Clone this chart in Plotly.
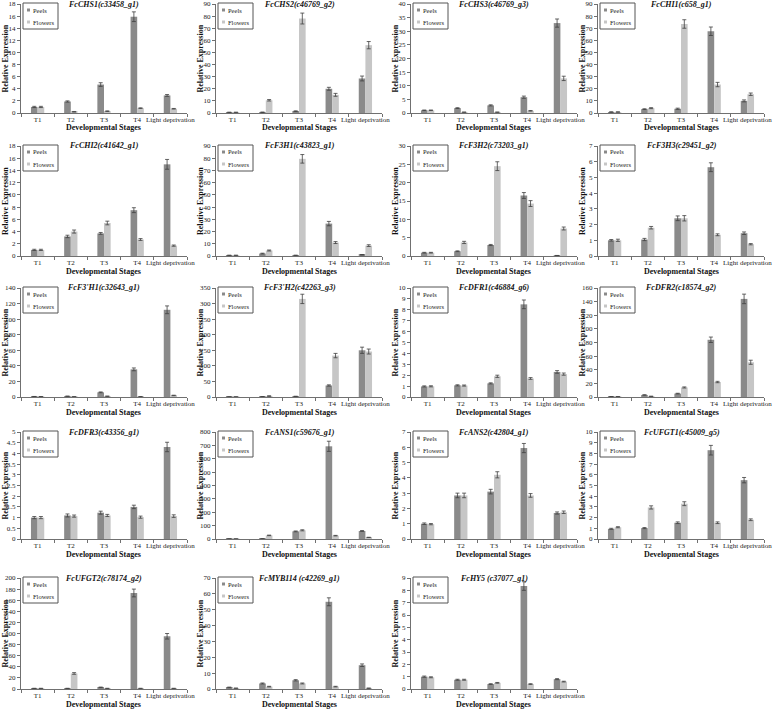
import plotly.graph_objects as go

# ---------------- data ----------------
stages = ["T1", "T2", "T3", "T4", "Light deprivation"]

genes = [
    "FcCHS1(c33458_g1)", "FcCHS2(c46769_g2)", "FcCHS3(c46769_g3)", "FcCHI1(c658_g1)",
    "FcCHI2(c41642_g1)", "FcF3H1(c43823_g1)", "FcF3H2(c73203_g1)", "FcF3H3(c29451_g2)",
    "FcF3'H1(c32643_g1)", "FcF3'H2(c42263_g3)", "FcDFR1(c46884_g6)", "FcDFR2(c18574_g2)",
    "FcDFR3(c43356_g1)", "FcANS1(c59676_g1)", "FcANS2(c42804_g1)", "FcUFGT1(c45009_g5)",
    "FcUFGT2(c78174_g2)", "FcMYB114 (c42269_g1)", "FcHY5 (c37077_g1)",
]

peels = [
    [1.0, 1.9, 4.7, 15.9, 2.9],
    [0.5, 0.6, 1.5, 20.0, 28.5],
    [1.0, 1.8, 2.8, 5.8, 33.0],
    [0.8, 3.2, 3.5, 67.5, 10.0],
    [1.0, 3.2, 3.7, 7.5, 15.0],
    [0.5, 2.0, 0.5, 26.5, 1.0],
    [0.9, 1.3, 3.0, 16.5, 0.1],
    [1.0, 1.05, 2.4, 5.65, 1.45],
    [0.5, 1.0, 6.0, 35.5, 112.0],
    [0.3, 1.0, 2.0, 37.0, 150.0],
    [0.97, 1.07, 1.25, 8.5, 2.3],
    [0.5, 3.0, 5.0, 84.0, 144.0],
    [1.0, 1.1, 1.23, 1.5, 4.3],
    [0.5, 1.0, 57.0, 693.0, 60.0],
    [1.0, 2.85, 3.1, 5.95, 1.7],
    [0.95, 1.02, 1.52, 8.3, 5.5],
    [1.0, 1.0, 3.0, 173.0, 95.0],
    [1.0, 3.5, 5.5, 55.0, 15.0],
    [1.0, 0.75, 0.4, 8.35, 0.8],
]
peels_err = [
    [0.1, 0.1, 0.3, 0.8, 0.15],
    [0.2, 0.2, 0.3, 1.2, 2.0],
    [0.1, 0.15, 0.2, 0.4, 1.5],
    [0.2, 0.3, 0.5, 3.5, 0.8],
    [0.1, 0.2, 0.15, 0.4, 0.8],
    [0.2, 0.3, 0.2, 1.8, 0.2],
    [0.1, 0.1, 0.15, 0.8, 0.05],
    [0.05, 0.07, 0.15, 0.28, 0.08],
    [0.2, 0.2, 0.5, 1.8, 5.0],
    [0.3, 0.5, 0.5, 2.0, 10.0],
    [0.05, 0.05, 0.05, 0.4, 0.12],
    [0.2, 0.3, 0.5, 4.0, 7.0],
    [0.05, 0.07, 0.07, 0.08, 0.22],
    [0.5, 1.0, 3.0, 38.0, 3.0],
    [0.05, 0.15, 0.15, 0.3, 0.07],
    [0.05, 0.05, 0.08, 0.45, 0.25],
    [0.3, 0.3, 0.5, 7.0, 5.0],
    [0.2, 0.3, 0.4, 2.5, 0.8],
    [0.05, 0.04, 0.03, 0.35, 0.04],
]
flowers = [
    [1.0, 0.2, 0.3, 0.8, 0.7],
    [0.5, 10.5, 78.0, 15.0, 56.0],
    [1.0, 0.3, 0.3, 0.8, 12.7],
    [0.8, 4.0, 73.5, 23.5, 15.5],
    [1.0, 4.0, 5.4, 2.7, 1.7],
    [0.5, 4.5, 79.5, 11.0, 8.5],
    [0.9, 3.7, 24.5, 14.3, 7.5],
    [1.0, 1.8, 2.4, 1.35, 0.75],
    [0.5, 0.3, 1.0, 0.5, 2.0],
    [0.3, 3.0, 315.0, 133.0, 146.0],
    [0.98, 1.05, 1.9, 1.7, 2.1],
    [0.5, 1.0, 14.0, 22.0, 51.0],
    [1.0, 1.07, 1.1, 1.02, 1.07],
    [0.5, 27.0, 65.0, 25.0, 12.0],
    [0.97, 2.85, 4.2, 2.85, 1.75],
    [1.1, 2.95, 3.3, 1.52, 1.8],
    [1.0, 28.0, 1.0, 1.0, 1.0],
    [0.5, 1.5, 3.5, 1.5, 0.5],
    [0.95, 0.75, 0.5, 0.4, 0.6],
]
flowers_err = [
    [0.1, 0.05, 0.05, 0.05, 0.05],
    [0.2, 0.6, 4.5, 1.2, 3.0],
    [0.1, 0.05, 0.05, 0.1, 0.8],
    [0.2, 0.4, 3.5, 1.8, 1.0],
    [0.1, 0.25, 0.3, 0.15, 0.1],
    [0.2, 0.4, 3.5, 0.8, 0.7],
    [0.1, 0.3, 1.2, 0.8, 0.4],
    [0.07, 0.08, 0.17, 0.06, 0.04],
    [0.1, 0.1, 0.2, 0.1, 0.3],
    [0.3, 1.0, 15.0, 7.0, 8.0],
    [0.05, 0.05, 0.1, 0.08, 0.1],
    [0.2, 0.2, 0.8, 1.0, 3.0],
    [0.05, 0.05, 0.05, 0.05, 0.06],
    [0.5, 2.0, 4.0, 2.0, 1.0],
    [0.04, 0.15, 0.2, 0.12, 0.08],
    [0.05, 0.15, 0.18, 0.08, 0.08],
    [0.3, 1.5, 0.3, 0.3, 0.3],
    [0.1, 0.2, 0.3, 0.2, 0.1],
    [0.04, 0.04, 0.03, 0.03, 0.03],
]
y_max = [18, 90, 40, 90, 18, 90, 30, 7, 140, 350, 10, 160, 5, 800, 7, 10, 200, 70, 9]
y_step = [2, 10, 5, 10, 2, 10, 5, 1, 20, 50, 1, 20, 0.5, 100, 1, 1, 20, 10, 1]

series_names = ["Peels", "Flowers"]

# ---------------- style / layout ----------------
W, H = 778, 711
FONT = "Liberation Serif"
PEEL_C = "#8a8a8a"
FLOW_C = "#c6c6c6"
AXIS_C = "#707070"
ERR_C = "#404040"

col_px = [(21, 187), (216, 382), (411, 577), (598, 764)]
row_px = [(4, 113), (146, 256), (288, 397), (432, 539), (578, 689)]


def px_x(v):
    return v / W


def px_y(v):
    return 1 - v / H


fig = go.Figure()
layout = dict(
    width=W, height=H,
    margin=dict(l=0, r=0, t=0, b=0),
    paper_bgcolor="white", plot_bgcolor="white",
    barmode="group", bargap=0.6, bargroupgap=0.0,
    showlegend=False,
    font=dict(family=FONT, size=7, color="#222222"),
)
annotations = []
shapes = []

for i, gene in enumerate(genes):
    r, c = divmod(i, 4)
    x0, x1 = col_px[c]
    yt, yb = row_px[r]
    sx = "" if i == 0 else str(i + 1)
    xa, ya = "x" + sx, "y" + sx

    for vals, errs, col, nm in ((peels[i], peels_err[i], PEEL_C, series_names[0]),
                                (flowers[i], flowers_err[i], FLOW_C, series_names[1])):
        fig.add_trace(go.Bar(
            x=stages, y=vals, name=nm, xaxis=xa, yaxis=ya,
            marker=dict(color=col, line=dict(width=0)),
            error_y=dict(type="data", array=errs, visible=True,
                         color=ERR_C, thickness=0.8, width=2),
            offsetgroup=nm,
        ))

    layout["xaxis" + sx] = dict(
        domain=[px_x(x0), px_x(x1)], anchor=ya, type="category",
        showline=True, linecolor=AXIS_C, linewidth=1,
        ticks="outside", tickson="boundaries", ticklen=3, tickcolor=AXIS_C,
        tickangle=0,
        showgrid=False, zeroline=False, automargin=False,
        tickfont=dict(family=FONT, size=7, color="#222222"),
    )
    layout["yaxis" + sx] = dict(
        domain=[px_y(yb), px_y(yt)], anchor=xa,
        range=[0, y_max[i]], dtick=y_step[i], tick0=0,
        showline=True, linecolor=AXIS_C, linewidth=1,
        ticks="outside", ticklen=3, tickcolor=AXIS_C,
        showgrid=False, zeroline=False, automargin=False,
        tickfont=dict(family=FONT, size=7, color="#222222"),
    )

    # panel title
    annotations.append(dict(
        text="<b><i>" + gene + "</i></b>", xref="paper", yref="paper",
        x=px_x((x0 + x1) / 2), y=px_y(yt), xanchor="center", yanchor="middle",
        showarrow=False, font=dict(family=FONT, size=8, color="#111111"),
    ))
    # x-axis title
    annotations.append(dict(
        text="<b>Developmental Stages</b>", xref="paper", yref="paper",
        x=px_x((x0 + x1) / 2), y=px_y(yb + 15), xanchor="center", yanchor="middle",
        showarrow=False, font=dict(family=FONT, size=8, color="#111111"),
    ))
    # y-axis title
    annotations.append(dict(
        text="<b>Relative Expression</b>", xref="paper", yref="paper",
        x=px_x(x0 - 16), y=px_y((yt + yb) / 2), xanchor="center", yanchor="middle",
        textangle=-90, showarrow=False, font=dict(family=FONT, size=8, color="#111111"),
    ))
    # legend box
    lx0, ly0 = x0 + 2, yt - 1
    shapes.append(dict(type="rect", xref="paper", yref="paper",
                       x0=px_x(lx0), x1=px_x(lx0 + 35), y0=px_y(ly0), y1=px_y(ly0 + 26),
                       line=dict(color="#555555", width=1), fillcolor="white"))
    for k, (nm, col) in enumerate(zip(series_names, (PEEL_C, FLOW_C))):
        cy = ly0 + 7 + k * 12
        shapes.append(dict(type="rect", xref="paper", yref="paper",
                           x0=px_x(lx0 + 4), x1=px_x(lx0 + 7), y0=px_y(cy - 1.5), y1=px_y(cy + 1.5),
                           line=dict(width=0), fillcolor=col))
        annotations.append(dict(
            text=nm, xref="paper", yref="paper", x=px_x(lx0 + 8), y=px_y(cy),
            xanchor="left", yanchor="middle", showarrow=False,
            font=dict(family=FONT, size=6.5, color="#222222"),
        ))

layout["annotations"] = annotations
layout["shapes"] = shapes
fig.update_layout(**layout)

fig.write_html("out.html", config={"displayModeBar": False},
               post_script="document.body.style.margin='0';")
